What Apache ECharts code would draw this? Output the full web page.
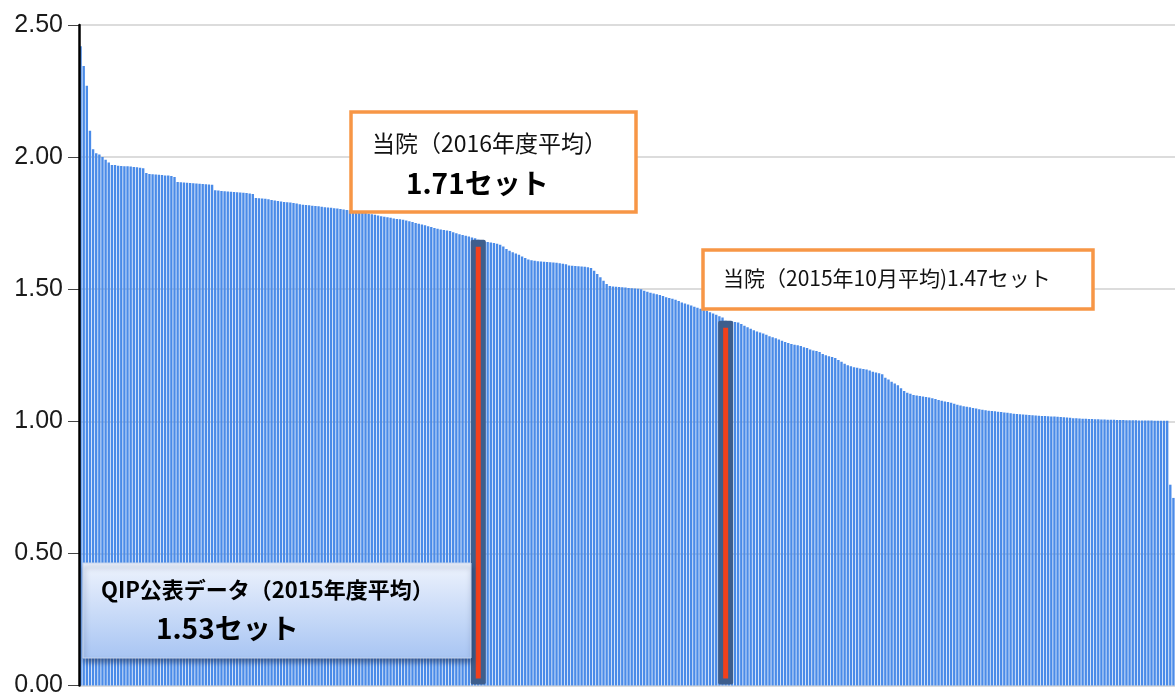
<!DOCTYPE html>
<html>
<head>
<meta charset="utf-8">
<script src="https://cdn.jsdelivr.net/npm/echarts@6/dist/echarts.min.js"></script>
<style>html,body{margin:0;padding:0;background:#fff;}#c{width:1175px;height:698px;}</style>
</head>
<body>
<div id="c"></div>
<script>
// Values (sorted descending, one per hospital)
const segA = [
  2.42, 2.345, 2.27, 2.10, 2.03, 2.015, 2.01, 2.00, 1.99, 1.98,
  1.97, 1.97, 1.967, 1.966, 1.965, 1.965, 1.964, 1.963, 1.962, 1.96, 1.958,
  1.94, 1.936, 1.935, 1.934, 1.933, 1.932, 1.93, 1.93, 1.928, 1.925,
  1.906, 1.905, 1.904, 1.903, 1.902, 1.901, 1.9, 1.899, 1.898, 1.897, 1.896, 1.895,
  1.875, 1.874, 1.872, 1.871, 1.87, 1.869, 1.868, 1.867, 1.866, 1.865, 1.864, 1.862, 1.86,
  1.845, 1.844, 1.843, 1.842, 1.84, 1.838, 1.836,
  1.834, 1.832, 1.83, 1.829, 1.828, 1.826, 1.824, 1.822, 1.82, 1.819, 1.818, 1.816, 1.815, 1.814, 1.812, 1.81, 1.809, 1.808, 1.806, 1.805, 1.804, 1.802, 1.80,
  1.799, 1.797, 1.795, 1.793, 1.79, 1.788, 1.786, 1.784, 1.782, 1.779, 1.776, 1.774, 1.772, 1.77, 1.768, 1.766, 1.765, 1.763, 1.76, 1.757, 1.754, 1.751,
  1.748, 1.745, 1.742, 1.738, 1.735, 1.732, 1.729, 1.726, 1.724, 1.722, 1.72, 1.716, 1.712, 1.708, 1.705, 1.702, 1.699, 1.696, 1.693
];
const hospital2016 = 1.687;
const segB = [
  1.684, 1.681, 1.679, 1.677, 1.675, 1.672, 1.668, 1.662,
  1.652, 1.646, 1.64, 1.635, 1.63, 1.624, 1.618,
  1.612, 1.61, 1.608, 1.606, 1.605, 1.604, 1.603, 1.602, 1.601, 1.6, 1.598, 1.596, 1.594,
  1.59, 1.589, 1.588, 1.587, 1.586, 1.585, 1.583, 1.58,
  1.57, 1.558, 1.545, 1.532, 1.52,
  1.512, 1.51, 1.509, 1.508, 1.507, 1.506, 1.505, 1.504, 1.503, 1.502, 1.5,
  1.494, 1.49, 1.487, 1.484, 1.481, 1.478, 1.474, 1.47, 1.467, 1.464, 1.46,
  1.455, 1.45, 1.446, 1.442, 1.438, 1.434, 1.43, 1.426, 1.422, 1.418, 1.413, 1.408, 1.403, 1.398, 1.393
];
const hospital201510 = 1.381;
const segC = [
  1.38, 1.378, 1.376, 1.374, 1.368, 1.362, 1.356, 1.35, 1.345,
  1.34, 1.336, 1.332, 1.328, 1.322, 1.318, 1.314, 1.31, 1.305, 1.3, 1.296, 1.293, 1.29, 1.288, 1.285,
  1.28, 1.277, 1.272, 1.268, 1.266, 1.262, 1.255, 1.25, 1.246, 1.243, 1.24, 1.232, 1.225, 1.218, 1.212,
  1.208, 1.205, 1.203, 1.2, 1.198, 1.196, 1.192, 1.188, 1.185, 1.182, 1.178,
  1.165, 1.158, 1.15, 1.143, 1.136, 1.125, 1.115, 1.108, 1.104,
  1.1, 1.098, 1.096, 1.094, 1.092, 1.09, 1.087, 1.084, 1.081, 1.078,
  1.075, 1.073, 1.07, 1.066, 1.063, 1.06, 1.057, 1.055, 1.053, 1.05, 1.048, 1.046, 1.044, 1.042, 1.04,
  1.039, 1.038, 1.036, 1.035, 1.033, 1.032, 1.03, 1.029, 1.028, 1.027, 1.026, 1.025, 1.024, 1.023, 1.022, 1.021, 1.02, 1.02, 1.019, 1.018, 1.018, 1.017, 1.016, 1.015, 1.014,
  1.013, 1.012, 1.012, 1.011, 1.01, 1.01, 1.009, 1.009, 1.008, 1.008, 1.007, 1.007, 1.006, 1.006, 1.006, 1.005, 1.005, 1.005, 1.004, 1.004, 1.004, 1.004, 1.003, 1.003, 1.003, 1.003, 1.003, 1.002, 1.002, 1.002, 1.002, 1.002,
  0.76, 0.71
];
const yTicks = [0, 0.5, 1.0, 1.5, 2.0, 2.5];

const values = segA.concat([hospital2016], segB, [hospital201510], segC);
const categories = values.map((v, i) => String(i + 1));
const idx2016 = segA.length;
const idx201510 = segA.length + 1 + segB.length;
const highlights = [[idx2016, hospital2016], [idx201510, hospital201510]];

const yMin = yTicks[0], yMax = yTicks[yTicks.length - 1];
const JP = '"Noto Sans CJK JP", "Noto Sans", sans-serif';
const chart = echarts.init(document.getElementById('c'), null, {renderer: 'canvas'});
chart.setOption({
  animation: false,
  grid: {left: 79, right: 0, top: 25, bottom: 10, containLabel: false},
  xAxis: {
    type: 'category', data: categories,
    axisLine: {show: false}, axisTick: {show: false}, axisLabel: {show: false},
    splitLine: {show: false}
  },
  yAxis: [
    {
      type: 'value', min: yMin, max: yMax, interval: 0.5,
      axisLine: {show: false},
      axisTick: {show: true, length: 11, lineStyle: {color: '#444', width: 1}},
      axisLabel: {
        margin: 16, fontSize: 25, color: '#1a1a1a', fontFamily: '"Liberation Sans", Arial, sans-serif',
        formatter: v => v.toFixed(2)
      },
      splitLine: {show: true, lineStyle: {color: '#d0d0d0', width: 1.5}}
    },
    {
      // overlay axis line drawn above the bars
      type: 'value', position: 'left', min: yMin, max: yMax, interval: 0.5, z: 5,
      axisLine: {show: true, lineStyle: {color: '#000', width: 2.5}},
      axisTick: {show: false}, axisLabel: {show: false}, splitLine: {show: false}
    }
  ],
  series: [
    {
      type: 'bar', data: values, barCategoryGap: '24%', z: 1,
      itemStyle: {color: '#4a8be8'}, silent: true
    },
    {
      type: 'custom', data: highlights, z: 3, silent: true,
      renderItem: function (params, api) {
        const top = api.coord([api.value(0), api.value(1)]);
        const bot = api.coord([api.value(0), 0]);
        const h = bot[1] - top[1];
        return {
          type: 'group',
          children: [
            {type: 'rect', shape: {x: top[0] - 7.5, y: top[1], width: 15, height: h - 1, r: 2},
              style: {fill: '#3e5e8c'}},
            {type: 'rect', shape: {x: top[0] - 2.5, y: top[1] + 7, width: 5, height: h - 14},
              style: {fill: '#f2401c'}}
          ]
        };
      }
    }
  ],
  graphic: [
    {
      type: 'rect', z: 10, shape: {x: 351, y: 112, width: 285, height: 100},
      style: {fill: '#fff', stroke: '#f79646', lineWidth: 3.5}
    },
    {
      type: 'text', z: 11, x: 372, y: 143,
      style: {text: '当院（2016年度平均）', font: '23px ' + JP, fill: '#111', textVerticalAlign: 'middle'}
    },
    {
      type: 'text', z: 11, x: 406, y: 183,
      style: {text: '1.71セット', font: 'bold 28px ' + JP, fill: '#000', textVerticalAlign: 'middle'}
    },
    {
      type: 'rect', z: 10, shape: {x: 703, y: 250, width: 390, height: 59},
      style: {fill: '#fff', stroke: '#f79646', lineWidth: 3.5}
    },
    {
      type: 'text', z: 11, x: 723, y: 278,
      style: {text: '当院（2015年10月平均)1.47セット', font: '21px ' + JP, fill: '#111', textVerticalAlign: 'middle'}
    },
    {
      type: 'rect', z: 10, shape: {x: 83, y: 563, width: 388, height: 95},
      style: {
        fill: new echarts.graphic.LinearGradient(0, 0, 0, 1, [
          {offset: 0, color: '#eef3fd'}, {offset: 1, color: '#a8c5f3'}
        ]),
        stroke: '#c3d4f0', lineWidth: 1,
        shadowColor: 'rgba(30,50,90,0.55)', shadowBlur: 5, shadowOffsetX: 1, shadowOffsetY: 4
      }
    },
    {
      type: 'text', z: 11, x: 101, y: 590,
      style: {text: 'QIP公表データ（2015年度平均）', font: 'bold 22px ' + JP, fill: '#000', textVerticalAlign: 'middle'}
    },
    {
      type: 'text', z: 11, x: 156, y: 628,
      style: {text: '1.53セット', font: 'bold 28px ' + JP, fill: '#000', textVerticalAlign: 'middle'}
    }
  ]
});
</script>
</body>
</html>
